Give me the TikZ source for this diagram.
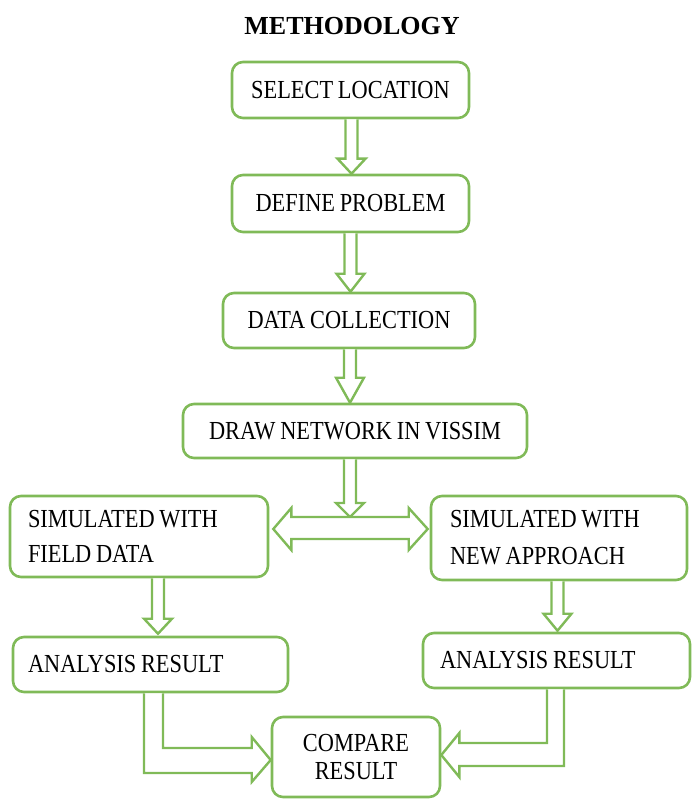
\documentclass[tikz,border=0pt]{standalone}
\usepackage{fontspec}
\setmainfont{Liberation Serif}
\newfontfamily\boxfont[FakeStretch=0.86,WordSpace=0.85]{Liberation Serif}
\usetikzlibrary{calc}
\definecolor{leaf}{RGB}{128,186,88}

% hollow block arrow pointing down: #1 x shift, #2 head length, #3 start point, #4 tip point
\newcommand\chuteblock[4]{%
  \draw[blk] let \p1=(#3), \p2=(#4) in
    (\x1+#1-6pt,\y1) -- (\x1+#1-6pt,\y2+#2) -- (\x1+#1-14pt,\y2+#2) --
    (\x1+#1,\y2) --
    (\x1+#1+14pt,\y2+#2) -- (\x1+#1+6pt,\y2+#2) -- (\x1+#1+6pt,\y1);}

\begin{document}
\begin{tikzpicture}[x=1pt,y=-1pt,
  box/.style={draw=leaf, line width=2.6pt, rounded corners=11pt, inner sep=0pt,
    font=\boxfont\fontsize{26}{35}\selectfont, align=center},
  lbox/.style={box, align=flush left},
  blk/.style={draw=leaf, line width=2.4pt, line join=miter, fill=white}]
\useasboundingbox (0,0) rectangle (693,802);

\node[font=\bfseries\fontsize{26}{30}\selectfont] (title) at (352,26) {METHODOLOGY};

% process boxes
\node[box, minimum width=237pt, minimum height=56pt] (b1) at (350.5,90) {SELECT LOCATION};
\node[box, minimum width=237pt, minimum height=57pt] (b2) at (350.5,203.5) {DEFINE PROBLEM};
\node[box, minimum width=252pt, minimum height=55pt] (b3) at (349,320.5) {DATA COLLECTION};
\node[box, minimum width=344pt, minimum height=54pt] (b4) at (355,431) {DRAW NETWORK IN VISSIM};
\node[lbox, minimum height=81pt, text width=222pt, inner xsep=18pt] (b5) at (139,536.5)
  {SIMULATED WITH\\FIELD DATA};
\node[lbox, minimum height=84pt, text width=218pt, inner xsep=19pt,
  font=\boxfont\fontsize{26}{37}\selectfont] (b6) at (559,538)
  {SIMULATED WITH\\NEW APPROACH};
\node[lbox, minimum height=55pt, text width=245pt, inner xsep=15pt] (b7) at (150.5,664.5)
  {ANALYSIS RESULT};
\node[lbox, minimum height=55pt, text width=233pt, inner xsep=17pt] (b8) at (556.5,660.5)
  {ANALYSIS RESULT};
\node[box, minimum width=168pt, minimum height=80pt,
  font=\boxfont\fontsize{26}{28}\selectfont] (b9) at (356,757) {COMPARE\\RESULT};

% junction under the network box
\coordinate (hub) at (350,529);
\coordinate (hubtop) at (350,517);

% vertical block arrows
\chuteblock{1pt}{15pt}{b1.south}{b2.north}
\chuteblock{0pt}{18pt}{b2.south}{b3.north}
\chuteblock{1pt}{25pt}{b3.south}{b4.north}
\chuteblock{-5pt}{14pt}{b4.south}{hubtop}
\chuteblock{19pt}{15pt}{b5.south}{$(b7.north)+(0,-2)$}
\chuteblock{-1.5pt}{17pt}{b6.south}{$(b8.north)+(0,-1)$}

% two-headed block arrow between the simulations
\draw[blk] let \p1=(b5.east), \p2=(b6.west), \p3=(hub) in
  (\x1+4pt,\y3) -- (\x1+22pt,\y3+21pt) -- (\x1+22pt,\y3+12pt) --
  (\x2-21pt,\y3+12pt) -- (\x2-21pt,\y3+21pt) -- (\x2-2pt,\y3) --
  (\x2-21pt,\y3-21pt) -- (\x2-21pt,\y3-10pt) -- (\x1+22pt,\y3-10pt) --
  (\x1+22pt,\y3-21pt) -- cycle;

% bent block arrow from the left analysis into the comparison
\draw[blk] let \p1=(b7.south), \p2=(b9.west) in
  (\x1-6.5pt,\y1) -- (\x1-6.5pt,\y2-16pt) -- (\x2-19pt,\y2-16pt) --
  (\x2-19pt,\y2-25pt) -- (\x2,\y2-3pt) -- (\x2-19pt,\y2+20pt) --
  (\x2-19pt,\y2+9pt) -- (\x1+12.5pt,\y2+9pt) -- (\x1+12.5pt,\y1);

% bent block arrow from the right analysis into the comparison
\draw[blk] let \p1=(b8.south), \p2=(b9.east) in
  (\x1+7.5pt,\y1) -- (\x1+7.5pt,\y2-9pt) -- (\x2+18pt,\y2-9pt) --
  (\x2+18pt,\y2-20pt) -- (\x2,\y2+2pt) -- (\x2+18pt,\y2+24pt) --
  (\x2+18pt,\y2+14pt) -- (\x1-9.5pt,\y2+14pt) -- (\x1-9.5pt,\y1);
\end{tikzpicture}
\end{document}
